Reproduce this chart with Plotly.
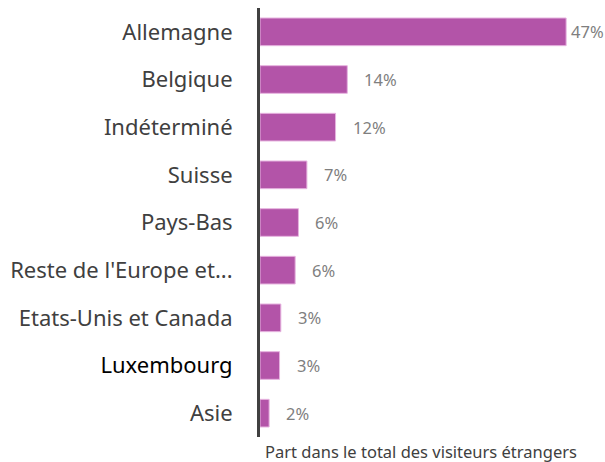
import plotly.graph_objects as go

categories = ["Allemagne", "Belgique", "Indéterminé", "Suisse", "Pays-Bas",
              "Reste de l'Europe et...", "Etats-Unis et Canada", "Luxembourg", "Asie"]
shares = [47.0, 13.4, 11.6, 7.2, 5.9, 5.4, 3.2, 3.0, 1.4]
value_labels = ["47%", "14%", "12%", "7%", "6%", "6%", "3%", "3%", "2%"]
axis_title = "Part dans le total des visiteurs étrangers"

FONT = "Noto Sans"
BAR = "#B354A8"

ticktext = [f'<span style="color:#000000">{c}</span>' if c == "Luxembourg" else c
            for c in categories]

fig = go.Figure(go.Bar(
    x=shares, y=categories, orientation="h",
    marker=dict(color=BAR, line=dict(color="#E6B3DF", width=1)),
    hoverinfo="skip",
))

for c, v, lab in zip(categories, shares, value_labels):
    fig.add_annotation(x=v, y=c, text=lab, showarrow=False, xanchor="left",
                       xshift=3 if v > 40 else 15,
                       font=dict(family=FONT, size=16.5, color="#7F7F7F"))

fig.add_annotation(xref="paper", yref="paper", x=0, y=0, xanchor="left", yanchor="top",
                   xshift=3, yshift=-1, text=axis_title, showarrow=False,
                   font=dict(family=FONT, size=16.5, color="#404040"))

fig.update_layout(
    width=605, height=462,
    margin=dict(l=260, r=5, t=8, b=25),
    paper_bgcolor="white", plot_bgcolor="white",
    bargap=0.42, showlegend=False,
    font=dict(family=FONT, color="#404040"),
)
fig.update_xaxes(range=[0, 52.2], visible=False, showgrid=False, zeroline=False)
fig.update_yaxes(type="category", categoryorder="array", categoryarray=categories,
                 range=[8.5, -0.5], tickvals=categories, ticktext=ticktext,
                 showline=True, linewidth=3, linecolor="#404040",
                 ticks="outside", ticklen=20, tickcolor="rgba(0,0,0,0)",
                 tickfont=dict(family=FONT, size=22, color="#404040"),
                 showgrid=False, zeroline=False)

fig.write_html("out.html", config={"displayModeBar": False},
               post_script="document.body.style.margin='0';document.body.style.padding='0';")
